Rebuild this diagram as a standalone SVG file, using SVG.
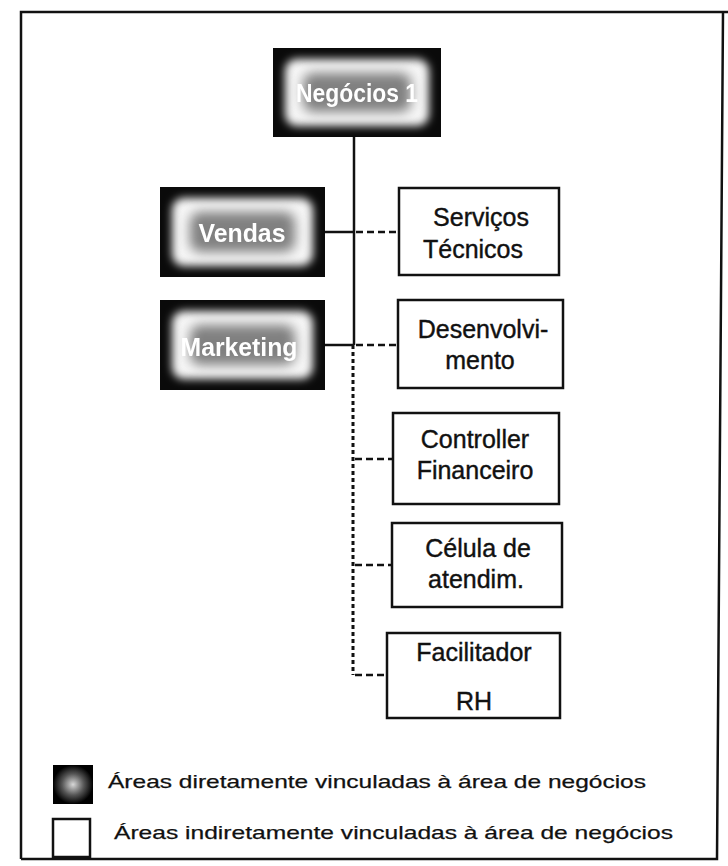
<svg xmlns="http://www.w3.org/2000/svg" width="728" height="866" viewBox="0 0 728 866">
  <defs>
    <filter id="soft" x="-20%" y="-20%" width="140%" height="140%">
      <feGaussianBlur stdDeviation="4"/>
    </filter>
    <filter id="softer" x="-30%" y="-30%" width="160%" height="160%">
      <feGaussianBlur stdDeviation="6"/>
    </filter>
    <filter id="glowtext" x="-10%" y="-30%" width="120%" height="160%">
      <feGaussianBlur stdDeviation="0.5"/>
    </filter>
    <radialGradient id="legendDark" cx="50%" cy="50%" r="50%">
      <stop offset="0" stop-color="#d8d8d8"/>
      <stop offset="0.55" stop-color="#555"/>
      <stop offset="1" stop-color="#000"/>
    </radialGradient>
  </defs>
  <style>
    .frame { fill: none; stroke: #111; stroke-width: 2.5; }
    .dark-outer { fill: #0a0a0a; }
    .dark-ring { fill: #f6f6f6; }
    .dark-core { fill: #808080; }
    .dark-label { font-family: "Liberation Sans", Arial, sans-serif; font-weight: bold; font-size: 25px; fill: #fff; text-anchor: middle; }
    .box { fill: #fff; stroke: #111; stroke-width: 2.5; }
    .label { font-family: "Liberation Sans", Arial, sans-serif; font-size: 25px; fill: #111; stroke: #111; stroke-width: 0.4; text-anchor: middle; }
    .solid { stroke: #111; stroke-width: 2.5; fill: none; }
    .dashed { stroke: #111; stroke-width: 2.5; fill: none; stroke-dasharray: 7 4; }
    .dotted { stroke: #111; stroke-width: 3; fill: none; stroke-dasharray: 4 3; }
    .legend-text { font-family: "Liberation Sans", Arial, sans-serif; font-size: 19px; fill: #111; stroke: #111; stroke-width: 0.25; }
  </style>

  <rect width="728" height="866" fill="#fff"/>

  <!-- outer frame -->
  <path class="frame" d="M21,859 L21,12 L728,12 M723,12 L717,859 L21,859"/>

  <!-- connectors -->
  <g id="connectors">
    <line class="solid" x1="354" y1="137" x2="354" y2="345"/>
    <line class="dotted" x1="353" y1="345" x2="353" y2="675"/>
    <line class="solid" x1="325" y1="232" x2="354" y2="232"/>
    <line class="dashed" x1="356" y1="232" x2="399" y2="232"/>
    <line class="solid" x1="325" y1="345" x2="354" y2="345"/>
    <line class="dashed" x1="356" y1="345" x2="398" y2="345"/>
    <line class="dashed" x1="355" y1="459" x2="393" y2="459"/>
    <line class="dashed" x1="355" y1="565" x2="392" y2="565"/>
    <line class="dashed" x1="355" y1="675" x2="387" y2="675"/>
  </g>

  <!-- directly linked areas (shaded boxes) -->
  <g id="negocios">
    <rect class="dark-outer" x="273" y="48" width="168" height="89"/>
    <rect class="dark-ring" x="285" y="59" width="144" height="67" rx="12" filter="url(#soft)"/>
    <rect class="dark-core" x="303" y="73" width="108" height="39" rx="10" filter="url(#softer)"/>
    <text class="dark-label" x="357" y="102" textLength="122" lengthAdjust="spacingAndGlyphs" filter="url(#glowtext)">Negócios 1</text>
  </g>

  <g id="vendas">
    <rect class="dark-outer" x="160" y="187" width="165" height="90"/>
    <rect class="dark-ring" x="172" y="198" width="141" height="68" rx="12" filter="url(#soft)"/>
    <rect class="dark-core" x="190" y="212" width="105" height="40" rx="10" filter="url(#softer)"/>
    <text class="dark-label" x="242" y="242" textLength="87" lengthAdjust="spacingAndGlyphs" filter="url(#glowtext)">Vendas</text>
  </g>

  <g id="marketing">
    <rect class="dark-outer" x="160" y="300" width="165" height="90"/>
    <rect class="dark-ring" x="172" y="311" width="141" height="68" rx="12" filter="url(#soft)"/>
    <rect class="dark-core" x="190" y="325" width="105" height="40" rx="10" filter="url(#softer)"/>
    <text class="dark-label" x="239" y="356" textLength="117" lengthAdjust="spacingAndGlyphs" filter="url(#glowtext)">Marketing</text>
  </g>

  <!-- indirectly linked areas (plain boxes) -->
  <g id="servicos">
    <rect class="box" x="399" y="188" width="160" height="87"/>
    <text class="label" x="481" y="226">Serviços</text>
    <text class="label" x="473" y="258">Técnicos</text>
  </g>

  <g id="desenvolvimento">
    <rect class="box" x="398" y="300" width="165" height="88"/>
    <text class="label" x="483" y="338" font-size="26">Desenvolvi-</text>
    <text class="label" x="480" y="369" font-size="26">mento</text>
  </g>

  <g id="controller">
    <rect class="box" x="393" y="413" width="166" height="91"/>
    <text class="label" x="475" y="448" font-size="22">Controller</text>
    <text class="label" x="475" y="479" font-size="22">Financeiro</text>
  </g>

  <g id="celula">
    <rect class="box" x="392" y="523" width="170" height="84"/>
    <text class="label" x="478" y="557">Célula de</text>
    <text class="label" x="476" y="588">atendim.</text>
  </g>

  <g id="facilitador">
    <rect class="box" x="387" y="633" width="173" height="85"/>
    <text class="label" x="474" y="661">Facilitador</text>
    <text class="label" x="474" y="710">RH</text>
  </g>

  <!-- legend -->
  <g id="legend-direct">
    <rect x="53" y="765" width="40" height="39" fill="url(#legendDark)"/>
    <text class="legend-text" x="108" y="788" textLength="538" lengthAdjust="spacingAndGlyphs">Áreas diretamente vinculadas à área de negócios</text>
  </g>
  <g id="legend-indirect">
    <rect x="53" y="819" width="37" height="38" fill="#fff" stroke="#111" stroke-width="2.5"/>
    <text class="legend-text" x="114" y="839" textLength="559" lengthAdjust="spacingAndGlyphs">Áreas indiretamente vinculadas à área de negócios</text>
  </g>
</svg>
